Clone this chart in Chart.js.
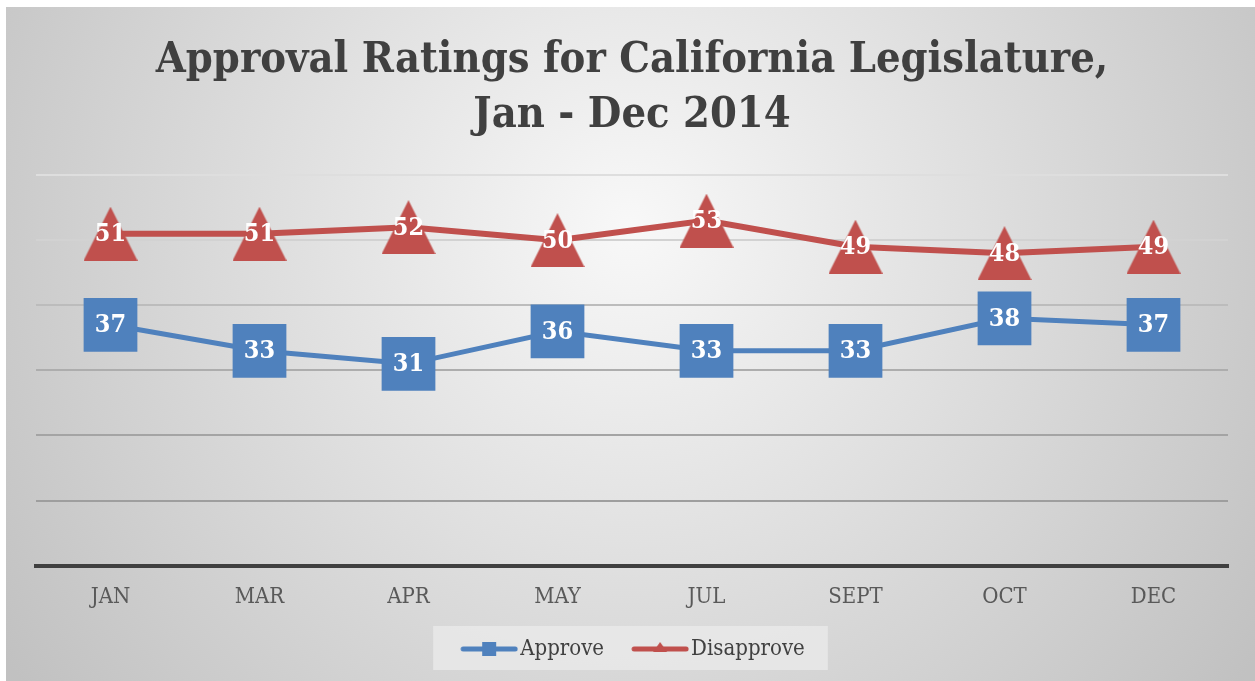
<!DOCTYPE html>
<html>
<head>
<meta charset="utf-8">
<script src="https://cdn.jsdelivr.net/npm/chart.js@4"></script>
<style>
    body { margin: 0; background: #fff; }
    #wrap { position: absolute; left: 6px; top: 7px; width: 1249px; height: 674px; }
</style>
</head>
<body>
<div id="wrap"><canvas id="chart" width="1249" height="674"></canvas></div>
<script>
// ─── DATA ────────────────────────────────────────────────────
const months     = ['JAN', 'MAR', 'APR', 'MAY', 'JUL', 'SEPT', 'OCT', 'DEC'];
const approve    = [37, 33, 31, 36, 33, 33, 38, 37];
const disapprove = [51, 51, 52, 50, 53, 49, 48, 49];
const titleLines = ['Approval Ratings for California Legislature,', 'Jan - Dec 2014'];

const BLUE = '#4f81bd';
const RED  = '#c0504d';
const FONT = "'DejaVu Serif Condensed', 'Liberation Serif', serif";

// ─── MARKER IMAGES ───────────────────────────────────────────
function triangleImg(w, h, color) {
    const c = document.createElement('canvas');
    c.width = w; c.height = h;
    const g = c.getContext('2d');
    g.fillStyle = color;
    g.beginPath();
    g.moveTo(w / 2, 0);
    g.lineTo(w, h);
    g.lineTo(0, h);
    g.closePath();
    g.fill();
    return c;
}

// legend icon: line + marker, drawn on the right part of a wider canvas
// so that the visible glyph sits just before the label text
function legendIcon(color, marker) {
    const c = document.createElement('canvas');
    c.width = 84; c.height = 16;
    const g = c.getContext('2d');
    const x0 = 26;
    g.strokeStyle = color;
    g.lineWidth = 5;
    g.lineCap = 'round';
    g.beginPath();
    g.moveTo(x0 + 3, 8); g.lineTo(x0 + 55, 8);
    g.stroke();
    g.fillStyle = color;
    if (marker === 'square') {
        g.fillRect(x0 + 22, 1, 14, 14);
    } else {
        g.beginPath();
        g.moveTo(x0 + 29, 1); g.lineTo(x0 + 36, 11); g.lineTo(x0 + 22, 11);
        g.closePath();
        g.fill();
    }
    return c;
}

const triMarker = triangleImg(54, 54, RED);
const icons = { Approve: legendIcon(BLUE, 'square'), Disapprove: legendIcon(RED, 'tri') };

// ─── PLUGINS ─────────────────────────────────────────────────
const backdrop = {
    id: 'backdrop',
    afterLayout(chart) {
        // nudge legend left so the visible items sit centred like the original
        chart.legend.left -= 8;
        chart.legend.right -= 8;
    },
    beforeDraw(chart) {
        const { ctx, width, height } = chart;
        ctx.save();
        const grad = ctx.createRadialGradient(624, 220, 0, 624, 220, 760);
        grad.addColorStop(0, '#f8f8f8');
        grad.addColorStop(1, '#c1c1c1');
        ctx.fillStyle = grad;
        ctx.fillRect(0, 0, width, height);

        // legend panel
        const hb = chart.legend.legendHitBoxes;
        if (hb && hb.length) {
            const last = hb[hb.length - 1];
            const x0 = hb[0].left - 10;
            const x1 = last.left + last.width + 23;
            ctx.fillStyle = 'rgba(235,235,235,0.75)';
            ctx.fillRect(x0, hb[0].top - 12, x1 - x0, hb[0].height + 22);
        }
        ctx.restore();
    }
};

const valueLabels = {
    id: 'valueLabels',
    afterDatasetsDraw(chart) {
        const { ctx } = chart;
        ctx.save();
        ctx.fillStyle = '#fff';
        ctx.font = 'bold 25px ' + FONT;
        ctx.textAlign = 'center';
        ctx.textBaseline = 'middle';
        chart.data.datasets.forEach((ds, i) => {
            chart.getDatasetMeta(i).data.forEach((pt, j) => {
                ctx.fillText(ds.data[j], pt.x, pt.y + 1);
            });
        });
        ctx.restore();
    }
};

// ─── CHART ───────────────────────────────────────────────────
const gridColors = ['rgba(0,0,0,0)', '#9e9e9e', '#a4a4a4', '#adadad', '#bcbcbc', '#d2d2d2', '#dedede'];

new Chart(document.getElementById('chart'), {
    type: 'line',
    data: {
        labels: months,
        datasets: [
            {
                label: 'Approve',
                data: approve,
                borderColor: BLUE,
                backgroundColor: BLUE,
                borderWidth: 5,
                pointStyle: 'rect',
                pointRadius: 38,
                pointHoverRadius: 38,
                pointBorderWidth: 0
            },
            {
                label: 'Disapprove',
                data: disapprove,
                borderColor: RED,
                backgroundColor: RED,
                borderWidth: 6,
                pointStyle: triMarker,
                pointRadius: 27,
                pointBorderWidth: 0
            }
        ]
    },
    options: {
        responsive: false,
        animation: false,
        events: [],
        layout: { autoPadding: false, padding: { left: 30, right: 27, top: 0, bottom: 11 } },
        plugins: {
            title: {
                display: true,
                text: titleLines,
                color: '#404040',
                font: { family: FONT, size: 43, weight: 'bold', lineHeight: 1.28 },
                padding: { top: 26, bottom: 32 }
            },
            legend: {
                position: 'bottom',
                labels: {
                    color: '#404040',
                    font: { family: FONT, size: 22 },
                    usePointStyle: true,
                    pointStyleWidth: 66,
                    padding: 10,
                    generateLabels: chart => chart.data.datasets.map((ds, i) => ({
                        text: ds.label,
                        pointStyle: icons[ds.label],
                        fillStyle: ds.borderColor,
                        strokeStyle: ds.borderColor,
                        lineWidth: 0,
                        fontColor: '#404040',
                        datasetIndex: i
                    }))
                }
            },
            tooltip: { enabled: false }
        },
        scales: {
            x: {
                offset: true,
                grid: { display: false, drawTicks: false },
                border: { color: '#404040', width: 4 },
                ticks: { color: '#595959', font: { family: FONT, size: 22 }, padding: 18 }
            },
            y: {
                min: 0,
                max: 60,
                ticks: { display: false, stepSize: 10 },
                grid: {
                    drawTicks: false,
                    lineWidth: 2,
                    color: ctx => gridColors[ctx.index] || '#dedede'
                },
                border: { display: false }
            }
        }
    },
    plugins: [backdrop, valueLabels]
});
</script>
</body>
</html>
